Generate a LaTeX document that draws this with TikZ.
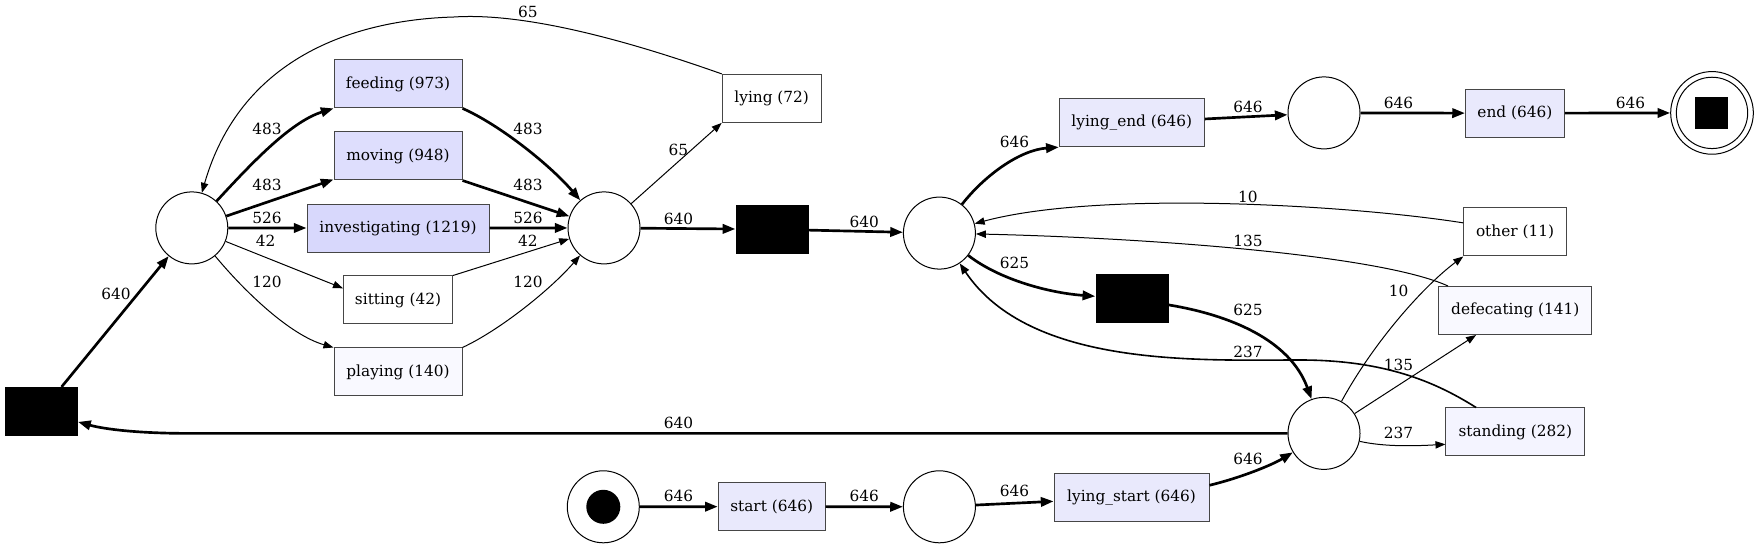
\documentclass[tikz,border=0pt]{standalone}
\usepackage{fontspec}
\setmainfont{DejaVu Serif}
\usetikzlibrary{arrows.meta}
\definecolor{fillA}{RGB}{216,216,252}
\definecolor{fillB}{RGB}{222,222,253}
\definecolor{fillC}{RGB}{233,233,252}
\definecolor{fillD}{RGB}{244,244,255}
\definecolor{fillE}{RGB}{249,249,255}
\definecolor{boxline}{RGB}{70,70,70}
\begin{document}
\begin{tikzpicture}[x=0.75pt,y=-0.75pt,
  font=\fontsize{11.5}{13}\selectfont,
  act/.style={draw=boxline, line width=0.75pt, rectangle, inner sep=0pt, minimum height=36pt},
  tau/.style={fill=black, draw=none, rectangle, inner sep=0pt, minimum width=54.75pt, minimum height=36.75pt},
  place/.style={draw=black, line width=0.75pt, circle, inner sep=0pt, minimum size=54pt},
  thinarc/.style={line width=0.75pt, -{Triangle[length=7.5pt,width=5.5pt]}},
  midarc/.style={line width=1.2pt, -{Triangle[length=8pt,width=6pt]}},
  thickarc/.style={line width=2pt, -{Triangle[length=9.5pt,width=7pt]}},
  lbl/.style={inner sep=0pt}
]
\useasboundingbox (0,0) rectangle (1759,548);
% nodes
\node[tau] (T1) at (41.3,411.7) {};
\node[place] (P1) at (191.8,227.9) {};
\node[act, fill=fillB, minimum width=96pt] (feeding) at (398,83.9) {feeding (973)};
\node[act, fill=fillB, minimum width=96pt] (moving) at (398,156) {moving (948)};
\node[act, fill=fillA, minimum width=136.5pt] (invest) at (398,228.1) {investigating (1219)};
\node[act, fill=white, minimum width=81.75pt] (sitting) at (398,300) {sitting (42)};
\node[act, fill=fillE, minimum width=96pt] (playing) at (398,372) {playing (140)};
\node[place] (P2) at (604,227.9) {};
\node[act, fill=white, minimum width=74.25pt] (lying) at (771.7,98.4) {lying (72)};
\node[tau] (T2) at (772.1,229.3) {};
\node[place] (P3) at (939.4,233.1) {};
\node[act, fill=fillC, minimum width=108.9pt] (lyingend) at (1131.8,122.7) {lying\_end (646)};
\node[tau] (T3) at (1132,298.9) {};
\node[place] (P5) at (1324,112.9) {};
\node[act, fill=fillC, minimum width=74.25pt] (end) at (1514.9,113.2) {end (646)};
\node[draw=black, line width=0.75pt, circle, inner sep=0pt, minimum size=62pt] (sink) at (1712,112.9) {};
\node[draw=black, line width=0.75pt, circle, inner sep=0pt, minimum size=53.5pt] (sinkin) at (1712,112.9) {};
\node[fill=black, rectangle, inner sep=0pt, minimum width=24.2pt, minimum height=24pt] (sinksq) at (1711.4,113.2) {};
\node[act, fill=white, minimum width=76.9pt] (other) at (1515,232) {other (11)};
\node[act, fill=fillE, minimum width=115pt] (defec) at (1515.3,310.5) {defecating (141)};
\node[act, fill=fillD, minimum width=104pt] (standing) at (1515.3,432) {standing (282)};
\node[place] (P6) at (1324,433.4) {};
\node[place] (source) at (603.3,506.8) {};
\node[fill=black, circle, inner sep=0pt, minimum size=25.5pt] (srcdot) at (603.3,506.8) {};
\node[act, fill=fillC, minimum width=80.25pt] (start) at (771.7,506.6) {start (646)};
\node[place] (P4) at (939.4,506.8) {};
\node[act, fill=fillC, minimum width=116.25pt] (lyingstart) at (1131.5,497.6) {lying\_start (646)};
\coordinate (peak) at (454,17);
\coordinate (bendA) at (190,433.4);
\coordinate (stmid) at (1300,360);
% arcs
\draw[thickarc] (T1) -- (P1);
\draw[thickarc] (P1) .. controls (250,165) and (290,122) .. (feeding.south west);
\draw[thickarc] (P1) -- (moving.200);
\draw[thickarc] (P1) -- (invest);
\draw[thinarc] (P1) -- (sitting.168);
\draw[thinarc] (P1) .. controls (245,292) and (290,335) .. (playing.north west);
\draw[thickarc] (feeding.south east) .. controls (500,125) and (550,165) .. (P2);
\draw[thickarc] (moving.south east) -- (P2);
\draw[thickarc] (invest) -- (P2);
\draw[thinarc] (sitting.north east) -- (P2);
\draw[thinarc] (playing.north east) .. controls (500,330) and (550,290) .. (P2);
\draw[thinarc] (P2) -- (lying.south west);
\draw[thinarc] (lying.north west) .. controls (640,45) and (530,12) .. (peak) .. controls (350,20) and (240,60) .. (P1);
\draw[thickarc] (P2) -- (T2);
\draw[thickarc] (T2) -- (P3);
\draw[thickarc] (P3) .. controls (985,175) and (1020,150) .. (lyingend.south west);
\draw[thickarc] (P3) .. controls (1000,280) and (1050,293) .. (T3);
\draw[thickarc] (T3) .. controls (1230,315) and (1290,340) .. (P6);
\draw[thickarc] (lyingend) -- (P5);
\draw[thickarc] (P5) -- (end);
\draw[thickarc] (end) -- (sink);
\draw[thinarc] (other.170) .. controls (1350,205) and (1100,190) .. (P3);
\draw[thinarc] (defec.160) .. controls (1380,255) and (1150,238) .. (P3);
\draw[midarc] (standing.148) .. controls (1440,385) and (1390,360) .. (stmid) .. controls (1200,360) and (1030,368) .. (P3);
\draw[thinarc] (P6) .. controls (1375,340) and (1425,285) .. (other.south west);
\draw[thinarc] (P6) -- (defec.-148);
\draw[thinarc] (P6) .. controls (1385,447) and (1415,446) .. (standing.190);
\draw[thickarc] (P6) -- (bendA) .. controls (130,433.4) and (100,428) .. (T1);
\draw[thickarc] (source) -- (start);
\draw[thickarc] (start) -- (P4);
\draw[thickarc] (P4) -- (lyingstart);
\draw[thickarc] (lyingstart.9) .. controls (1240,478) and (1272,465) .. (P6);
% labels
\node[lbl] (l1) at (266.9,128.6) {483};
\node[lbl] (l2) at (266.9,185.2) {483};
\node[lbl] (l3) at (266.9,217.8) {526};
\node[lbl] (l4) at (265.7,240.5) {42};
\node[lbl] (l5) at (266.9,282.4) {120};
\node[lbl] (l6) at (115.9,293.6) {640};
\node[lbl] (l7) at (527.9,128.6) {483};
\node[lbl] (l8) at (527.9,185.2) {483};
\node[lbl] (l9) at (527.9,217.8) {526};
\node[lbl] (l10) at (527.9,240.5) {42};
\node[lbl] (l11) at (527.9,282.4) {120};
\node[lbl] (l12) at (527.9,12.2) {65};
\node[lbl] (l13) at (678.4,149.6) {65};
\node[lbl] (l14) at (678.4,219.2) {640};
\node[lbl] (l15) at (864.2,222) {640};
\node[lbl] (l16) at (1014.5,141.6) {646};
\node[lbl] (l17) at (1014.5,262.8) {625};
\node[lbl] (l18) at (678.4,423) {640};
\node[lbl] (l19) at (678.4,496.3) {646};
\node[lbl] (l20) at (864.2,496.3) {646};
\node[lbl] (l21) at (1014.5,491) {646};
\node[lbl] (l22) at (1247.9,106.6) {646};
\node[lbl] (l23) at (1398.6,103.1) {646};
\node[lbl] (l24) at (1630.4,103.1) {646};
\node[lbl] (l25) at (1247.9,196.8) {10};
\node[lbl] (l26) at (1247.9,241.2) {135};
\node[lbl] (l27) at (1247.9,310.4) {625};
\node[lbl] (l28) at (1247.9,352.3) {237};
\node[lbl] (l29) at (1398.6,291.2) {10};
\node[lbl] (l30) at (1398.6,364.6) {135};
\node[lbl] (l31) at (1398.6,433.4) {237};
\node[lbl] (l32) at (1247.9,458.6) {646};
\end{tikzpicture}
\end{document}
